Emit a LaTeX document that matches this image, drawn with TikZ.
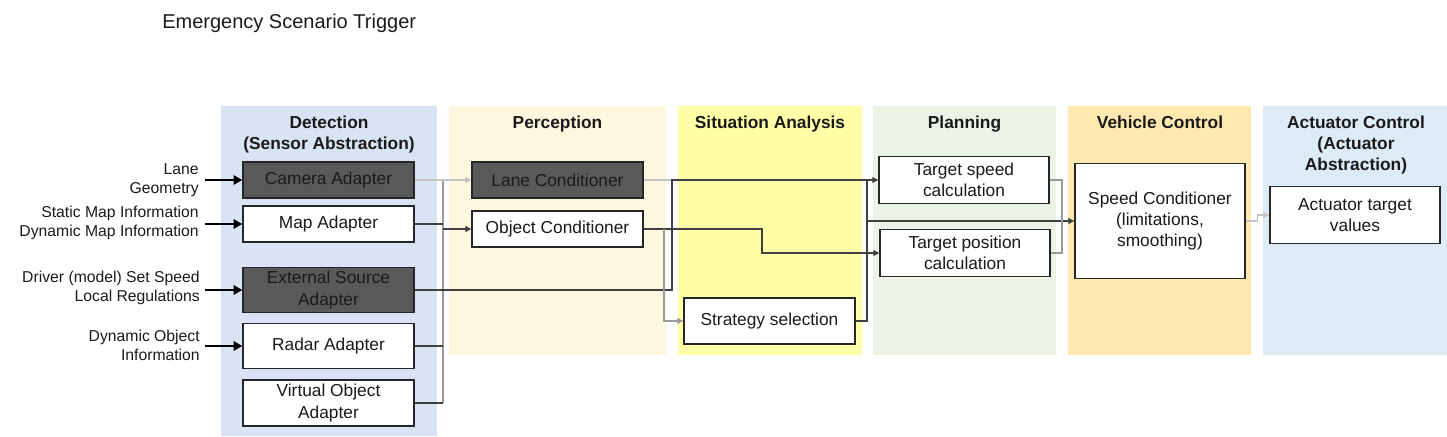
\documentclass[tikz,border=0pt]{standalone}
\usepackage{fontspec}
\setmainfont{Liberation Sans}
\usetikzlibrary{arrows.meta,calc}
\definecolor{pDet}{HTML}{DAE3F3}
\definecolor{pPer}{HTML}{FFF6DF}
\definecolor{pSit}{HTML}{FFFFA8}
\definecolor{pPla}{HTML}{EBF3E6}
\definecolor{pVeh}{HTML}{FFE9B0}
\definecolor{pAct}{HTML}{DDEBF7}
\definecolor{boxdark}{HTML}{595959}
\definecolor{lineD}{HTML}{404040}
\definecolor{lineM}{HTML}{9A9A9A}
\definecolor{lineL}{HTML}{C4C4C4}
\definecolor{txt}{HTML}{1A1A1A}
\begin{document}
\begin{tikzpicture}[x=0.75pt,y=-0.75pt,
  hdr/.style={anchor=north, inner sep=0pt, align=center, font=\fontsize{13}{15.75}\selectfont\bfseries, text=txt},
  blk/.style={draw=black!85, line width=1.1pt, fill=white, align=center, inner sep=2pt, font=\fontsize{13}{16}\selectfont, text=txt},
  dblk/.style={blk, fill=boxdark},
  sz/.style 2 args={minimum width=#1*0.75pt, minimum height=#2*0.75pt},
  inl/.style={anchor=east, align=right, inner sep=0pt, font=\fontsize{11.8}{14.25}\selectfont, text=txt},
  inarr/.style={draw=black, line width=2.2pt, -{Triangle[length=6.5pt,width=7pt]}},
  conn/.style={draw=lineD, line width=0.9pt},
  connM/.style={draw=lineM, line width=0.9pt},
  connL/.style={draw=lineL, line width=0.9pt},
  endtip/.style={-{Triangle[length=4.5pt,width=4.5pt]}}
]
\useasboundingbox (0,0) rectangle (1447,436);

% panels
\fill[pDet] (221,106) rectangle (437,436);
\fill[pPer] (449,106) rectangle (666,355);
\fill[pSit] (678,106) rectangle (862,355);
\fill[pPla] (873,106) rectangle (1056,355);
\fill[pVeh] (1068,106) rectangle (1251,355);
\fill[pAct] (1263,106) rectangle (1447,355);

% title
\node[anchor=base west, inner sep=0pt, font=\fontsize{15}{18}\selectfont, text=txt] (title) at (162,28) {Emergency Scenario Trigger};

% headers
\node[hdr] (hDet) at (329,116) {Detection\\(Sensor Abstraction)};
\node[hdr] (hPer) at (557.5,116) {Perception};
\node[hdr] (hSit) at (770,116) {Situation Analysis};
\node[hdr] (hPla) at (964.5,116) {Planning};
\node[hdr] (hVeh) at (1160,116) {Vehicle Control};
\node[hdr] (hAct) at (1356,116) {Actuator Control\\(Actuator\\Abstraction)};

% boxes
\node[dblk, sz={171}{36}] (cam) at (328.5,180) {Camera Adapter};
\node[blk, sz={171}{36}] (map) at (328.5,224) {Map Adapter};
\node[dblk, sz={171}{45}] (ext) at (328.5,290) {External Source\\Adapter};
\node[blk, sz={171}{45}] (rad) at (328.5,346) {Radar Adapter};
\node[blk, sz={171}{46}] (vir) at (328.5,403) {Virtual Object\\Adapter};
\node[dblk, sz={171}{36}] (lane) at (557.5,180) {Lane Conditioner};
\node[blk, sz={171}{36}] (obj) at (557.5,229) {Object Conditioner};
\node[blk, sz={171}{46}] (str) at (769.5,321) {Strategy selection};
\node[blk, sz={170}{47}] (tsp) at (964,180) {Target speed\\calculation};
\node[blk, sz={170}{47}] (tpo) at (965,253) {Target position\\calculation};
\node[blk, sz={170}{115}] (spc) at (1160,221) {Speed Conditioner\\(limitations,\\smoothing)};
\node[blk, sz={170}{57}] (act) at (1355,215) {Actuator target\\values};

% input labels
\node[inl] (l1) at (199,180) {Lane\\Geometry};
\node[inl] (l2) at (199,222.5) {Static Map Information\\Dynamic Map Information};
\node[inl] (l3) at (200,288) {Driver (model) Set Speed\\Local Regulations};
\node[inl] (l4) at (200,345.5) {Dynamic Object\\Information};

\coordinate (i1) at (205,180);
\coordinate (i2) at (205,224);
\coordinate (i3) at (205,290);
\coordinate (i4) at (205,346);
\draw[inarr] (i1) -- (cam.west);
\draw[inarr] (i2) -- (map.west);
\draw[inarr] (i3) -- (ext.west);
\draw[inarr] (i4) -- (rad.west);

% connectors
\coordinate (bt) at (443,180);
\coordinate (bb) at (443,403);
\draw[connM] (bt) -- (bb);
\draw[connL, endtip] (cam.east) -- (lane.west);
\draw[conn] (map.east) -- (map.east -| bt);
\draw[conn] (rad.east) -- (rad.east -| bt);
\draw[conn] (vir.east) -- (vir.east -| bt);
\draw[conn, endtip] (obj.west -| bt) -- (obj.west);
\coordinate (j1) at (672,180);
\draw[connL] (lane.east) -- (j1);
\draw[conn, endtip] (ext.east) -| (j1) -- (tsp.west);
\coordinate (j2) at (762,253);
\draw[conn, endtip] (obj.east) -| (j2) -- (tpo.west);
\coordinate (j3) at (664,229);
\draw[connM, endtip] (j3) |- (str.west);
\coordinate (j4) at (867,180);
\draw[conn] (str.east) -| (j4);
\draw[conn, endtip] (j4 |- spc.west) -- (spc.west);
\coordinate (j5) at (1062,221);
\draw[connM] (tsp.east) -| (j5);
\draw[connM] (tpo.east) -| (j5);
\draw[connL, endtip] (spc.east) -- ++(12,0) |- (act.west);
\end{tikzpicture}
\end{document}
